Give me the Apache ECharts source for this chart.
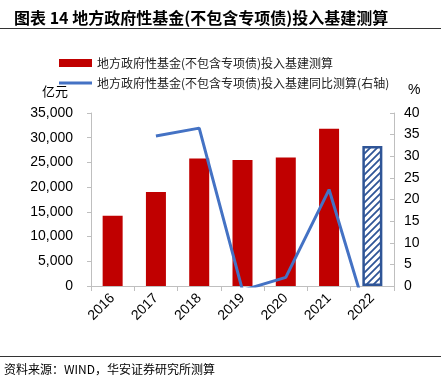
<!DOCTYPE html>
<html><head><meta charset="utf-8">
<script src="https://cdn.jsdelivr.net/npm/echarts@6/dist/echarts.min.js"></script>
<style>html,body{margin:0;padding:0;background:#fff}#c{width:441px;height:390px}</style>
</head><body><div id="c"></div>
<script>
const categories = ['2016','2017','2018','2019','2020','2021','2022'];
const fundInvest = [14200, 19000, 25800, 25500, 26000, 31800, 28300];
const yoyGrowth = [null, 34.7, 36.5, -1, 2, 22.3, -11];
const leftTicks = [0, 5000, 10000, 15000, 20000, 25000, 30000, 35000];
const rightTicks = [0, 5, 10, 15, 20, 25, 30, 35, 40];

const FONT = '"Liberation Sans", Arial, "Noto Sans CJK SC", sans-serif';
const CJK = '"Noto Sans CJK SC", sans-serif';
const RED = '#C00000', BLUE = '#4472C4', HATCH = '#2F5597';

// hatch pattern for estimated 2022 bar
const S = 7;
const pc = document.createElement('canvas');
pc.width = S; pc.height = S;
const g = pc.getContext('2d');
g.fillStyle = '#fff'; g.fillRect(0,0,S,S);
g.strokeStyle = HATCH; g.lineWidth = 1.8;
g.beginPath();
g.moveTo(0,S); g.lineTo(S,0);
g.moveTo(-2,2); g.lineTo(2,-2);
g.moveTo(S-2,S+2); g.lineTo(S+2,S-2);
g.stroke();

const barData = fundInvest.map((v, i) => i === fundInvest.length - 1
  ? { value: v, itemStyle: { color: { image: pc, repeat: 'repeat' }, borderColor: HATCH, borderWidth: 2.5 } }
  : v);

const chart = echarts.init(document.getElementById('c'), null, { renderer: 'canvas' });
chart.setOption({
  animation: false,
  backgroundColor: '#fff',
  textStyle: { fontFamily: FONT },
  grid: { left: 91, right: 47, top: 113, bottom: 104, containLabel: false },
  graphic: [
    { type: 'text', left: 14, top: 10, style: { text: '图表 14 地方政府性基金(不包含专项债)投入基建测算', font: 'bold 16px ' + CJK, fill: '#000' } },
    { type: 'line', shape: { x1: 0, y1: 28.5, x2: 441, y2: 28.5 }, style: { stroke: '#333', lineWidth: 1 } },
    { type: 'line', shape: { x1: 0, y1: 356.5, x2: 441, y2: 356.5 }, style: { stroke: '#333', lineWidth: 1 } },
    { type: 'text', left: 4, top: 363, style: { text: '资料来源：WIND，华安证券研究所测算', font: '12px ' + CJK, fill: '#000' } },
    { type: 'text', left: 42, top: 85, style: { text: '亿元', font: '13px ' + CJK, fill: '#000' } },
    { type: 'text', left: 408, top: 83, style: { text: '%', font: '14px ' + FONT, fill: '#000' } }
  ],
  legend: {
    orient: 'vertical', left: 54, top: 52, itemWidth: 33, itemHeight: 8, itemGap: 8,
    textStyle: { fontFamily: CJK, fontSize: 12, color: '#222' },
    data: [
      { name: '地方政府性基金(不包含专项债)投入基建测算', icon: 'rect' },
      { name: '地方政府性基金(不包含专项债)投入基建同比测算(右轴)', icon: 'path://M0,0M33,8M0,2.5L33,2.5L33,5.5L0,5.5Z' }
    ]
  },
  xAxis: {
    type: 'category', data: categories,
    axisLine: { lineStyle: { color: '#BFBFBF' } },
    axisTick: { show: true, alignWithLabel: false, length: 5, lineStyle: { color: '#BFBFBF' } },
    axisLabel: { rotate: 45, fontSize: 14, color: '#000', margin: 10, fontFamily: FONT }
  },
  yAxis: [
    { type: 'value', min: 0, max: 35000, interval: 5000,
      axisLine: { show: true, lineStyle: { color: '#BFBFBF' } },
      axisTick: { show: true, length: 4, lineStyle: { color: '#BFBFBF' } },
      splitLine: { show: false },
      axisLabel: { fontSize: 14, color: '#000', margin: 18, fontFamily: FONT,
        formatter: v => leftTicks.includes(v) ? v.toLocaleString('en-US') : '' } },
    { type: 'value', min: 0, max: 40, interval: 5,
      axisLine: { show: true, lineStyle: { color: '#BFBFBF' } },
      axisTick: { show: true, inside: true, length: 4, lineStyle: { color: '#BFBFBF' } },
      splitLine: { show: false },
      axisLabel: { fontSize: 14, color: '#000', margin: 10, fontFamily: FONT,
        formatter: v => rightTicks.includes(v) ? String(v) : '' } }
  ],
  series: [
    { name: '地方政府性基金(不包含专项债)投入基建测算', type: 'bar', data: barData, barWidth: 20,
      itemStyle: { color: RED } },
    { name: '地方政府性基金(不包含专项债)投入基建同比测算(右轴)', type: 'line', yAxisIndex: 1,
      data: yoyGrowth, symbol: 'none', clip: true, lineStyle: { color: BLUE, width: 3 }, itemStyle: { color: BLUE } }
  ]
});
</script></body></html>
